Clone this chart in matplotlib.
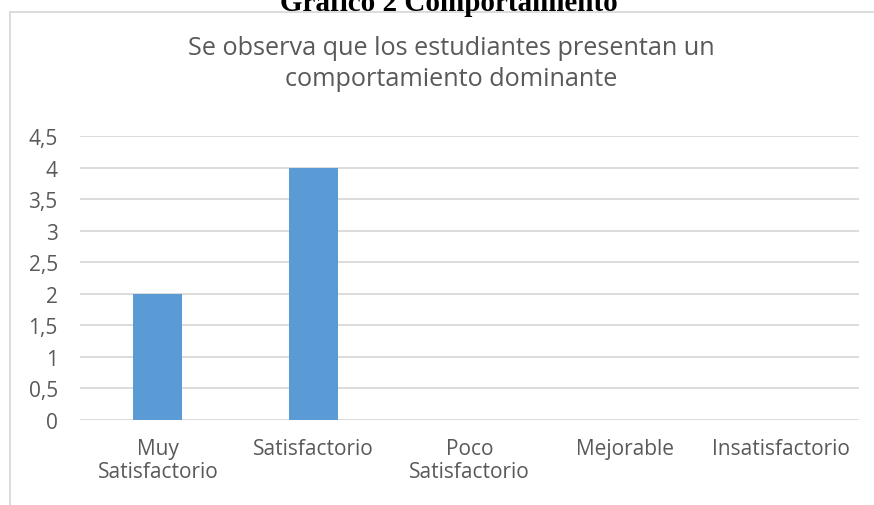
import matplotlib
matplotlib.use("Agg")
import matplotlib.pyplot as plt
from matplotlib.lines import Line2D

categorias = ["Muy\nSatisfactorio", "Satisfactorio", "Poco\nSatisfactorio",
              "Mejorable", "Insatisfactorio"]
valores = [2, 4, 0, 0, 0]
yticks = [0, 0.5, 1, 1.5, 2, 2.5, 3, 3.5, 4, 4.5]
ylabels = ["0", "0,5", "1", "1,5", "2", "2,5", "3", "3,5", "4", "4,5"]
titulo = "Se observa que los estudiantes presentan un\ncomportamiento dominante"
encabezado = "Gráfico 2 Comportamiento"

gris = "#595959"
linea = "#d9d9d9"
azul = "#5b9bd5"
fuente = ["Open Sans", "DejaVu Sans"]

W, H = 874, 506
fig = plt.figure(figsize=(W / 100, H / 100), dpi=100)

# marco del grafico (solo se ve borde izquierdo y superior)
fig.add_artist(Line2D([10 / W, 10 / W], [0, 1 - 13 / H], color=linea, lw=1.3,
                      transform=fig.transFigure))
fig.add_artist(Line2D([10 / W, 1], [1 - 13 / H, 1 - 13 / H], color=linea, lw=1.3,
                      transform=fig.transFigure))

# encabezado cortado arriba, como en la imagen original
fig.text(449 / W, 1 - 11 / H, encabezado, ha="center", va="baseline",
         fontsize=21, fontweight="bold", family="Liberation Serif")

ax = fig.add_axes([80 / W, 85 / H, 779 / W, 284 / H])
x = range(len(categorias))
ax.bar(x, valores, width=0.315, color=azul, zorder=3)
ax.set_xlim(-0.5, len(categorias) - 0.5)
ax.set_ylim(0, 4.5)
ax.set_yticks(yticks)
ax.set_yticklabels(ylabels, family=fuente, fontsize=15, color=gris)
ax.set_xticks(list(x))
ax.set_xticklabels(categorias, family=fuente, fontsize=15, color=gris,
                   linespacing=1.15)
ax.tick_params(axis="both", length=0)
ax.tick_params(axis="y", pad=16)
ax.tick_params(axis="x", pad=13)
ax.grid(axis="y", color=linea, lw=1.3, zorder=0)
for s in ax.spines.values():
    s.set_visible(False)

fig.text(451 / W, 1 - 64 / H, titulo, ha="center", va="center",
         fontsize=18.2, color=gris, family=fuente, linespacing=1.32)

fig.savefig("out.png", dpi=100)
